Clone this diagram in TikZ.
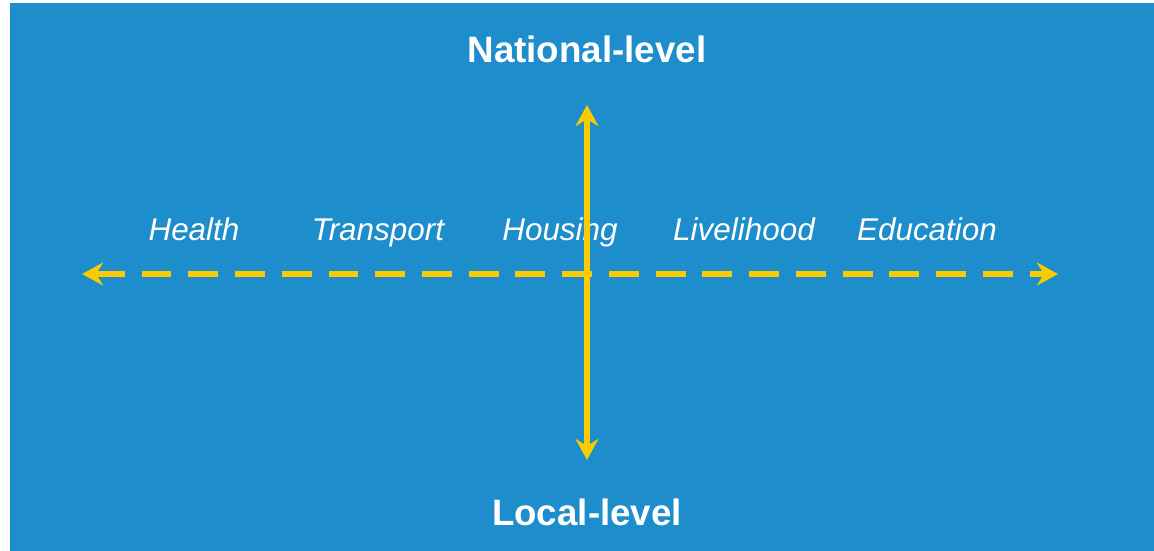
\documentclass[tikz,border=0pt]{standalone}
\usepackage{fontspec}
\setmainfont{Liberation Sans}
\usetikzlibrary{arrows.meta}
\definecolor{bgblue}{HTML}{1E8DCB}
\definecolor{axisyellow}{HTML}{FACB00}

\begin{document}
\begin{tikzpicture}[x=0.02cm, y=-0.02cm, line width=3.6pt,
    level/.style={text=white, font=\fontsize{20.9}{24}\selectfont\bfseries, anchor=base},
    sector/.style={text=white, font=\fontsize{17.9}{21}\selectfont\itshape, anchor=base},
    axistip/.style={Stealth[length=12pt, width=13pt, inset=4pt]},
    axis/.style={draw=axisyellow, {Stealth[length=12pt, width=13pt, inset=4pt]}-{Stealth[length=12pt, width=13pt, inset=4pt]}}]
    \useasboundingbox[fill=white] (0,0) rectangle (1154,551);
    \fill[bgblue] (10,3) rectangle (1154,551);

    % levels
    \node[level](national) at (587, 62) {National-level};
    \node[level](local) at (587, 525) {Local-level};

    % sectors
    \node[sector](health) at (194, 240) {Health};
    \node[sector](transport) at (378, 240) {Transport};
    \node[sector](housing) at (560, 240) {Housing};
    \node[sector](livelihood) at (744, 240) {Livelihood};
    \node[sector](education) at (927, 240) {Education};

    % axes
    \coordinate(west) at (82, 274);
    \coordinate(east) at (1058, 274);
    \coordinate(north) at (587, 105);
    \coordinate(south) at (587, 460);
    \draw[axis, dash pattern=on 17pt off 9.6pt] (west) -- (east);
    \draw[axis] (south) -- (north);
\end{tikzpicture}
\end{document}
